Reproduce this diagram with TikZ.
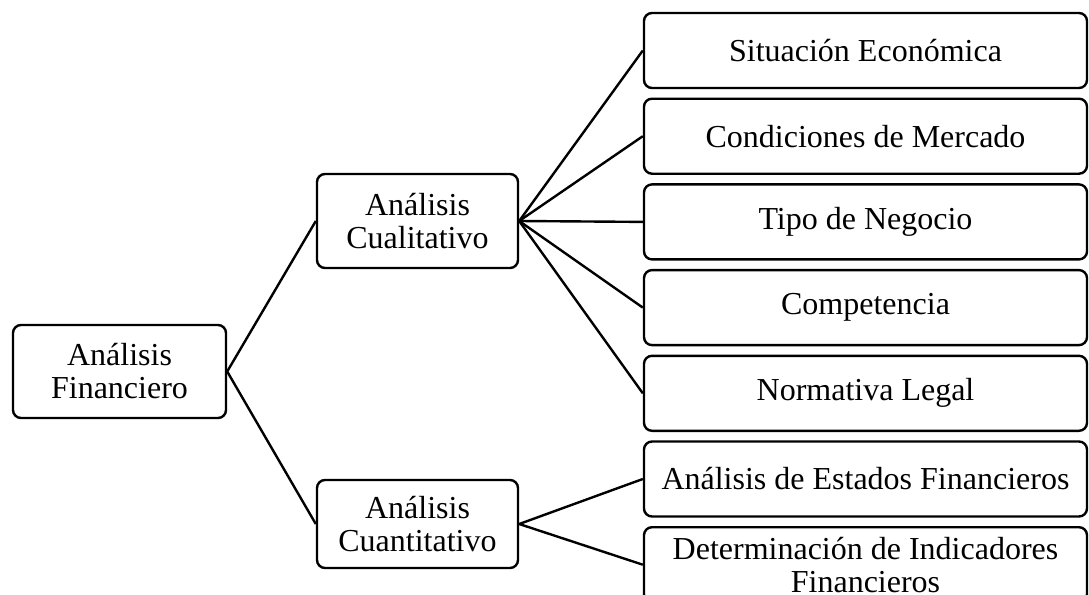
\documentclass[tikz,border=0pt]{standalone}
\usepackage{fontspec}
\setmainfont{Liberation Serif}
\begin{document}
\begin{tikzpicture}[x=1pt,y=-1pt,
  box/.style={draw, line width=2.4pt, rounded corners=8pt, align=center,
    font=\fontsize{32}{33}\selectfont, inner sep=0pt},
  leafbox/.style={box, minimum width=443pt, minimum height=75pt},
  midbox/.style={box, minimum width=201pt},
  link/.style={line width=2.4pt}]
\useasboundingbox (0,0) rectangle (1089,594);
\clip (0,0) rectangle (1089,594);
\fill[white] (0,0) rectangle (1089,594);

% root
\node[box, minimum width=213pt, minimum height=93pt] (fin) at (119.5,371.5) {Análisis\\Financiero};

% second level
\node[midbox, minimum height=94pt] (cual) at (417.5,221) {Análisis\\Cualitativo};
\node[midbox, minimum height=88pt] (cuan) at (417.5,524) {Análisis\\Cuantitativo};

% leaves
\node[leafbox] (r1) at (865.5,50.5)  {Situación Económica};
\node[leafbox] (r2) at (865.5,136.2) {Condiciones de Mercado};
\node[leafbox] (r3) at (865.5,221.9) {Tipo de Negocio};
\node[leafbox] (r4) at (865.5,307.6) {Competencia};
\node[leafbox] (r5) at (865.5,393.3) {Normativa Legal};
\node[leafbox] (r6) at (865.5,479)   {Análisis de Estados Financieros};
\node[leafbox] (r7) at (865.5,564.7) {Determinación de Indicadores\\Financieros};

% connectors
\draw[link] (fin.east) -- (cual.west);
\draw[link] (fin.east) -- (cuan.west);
\foreach \r in {r1,r2,r3,r4,r5}
  \draw[link] (cual.east) -- (\r.west);
\foreach \r in {r6,r7}
  \draw[link] (cuan.east) -- (\r.west);
\end{tikzpicture}
\end{document}
